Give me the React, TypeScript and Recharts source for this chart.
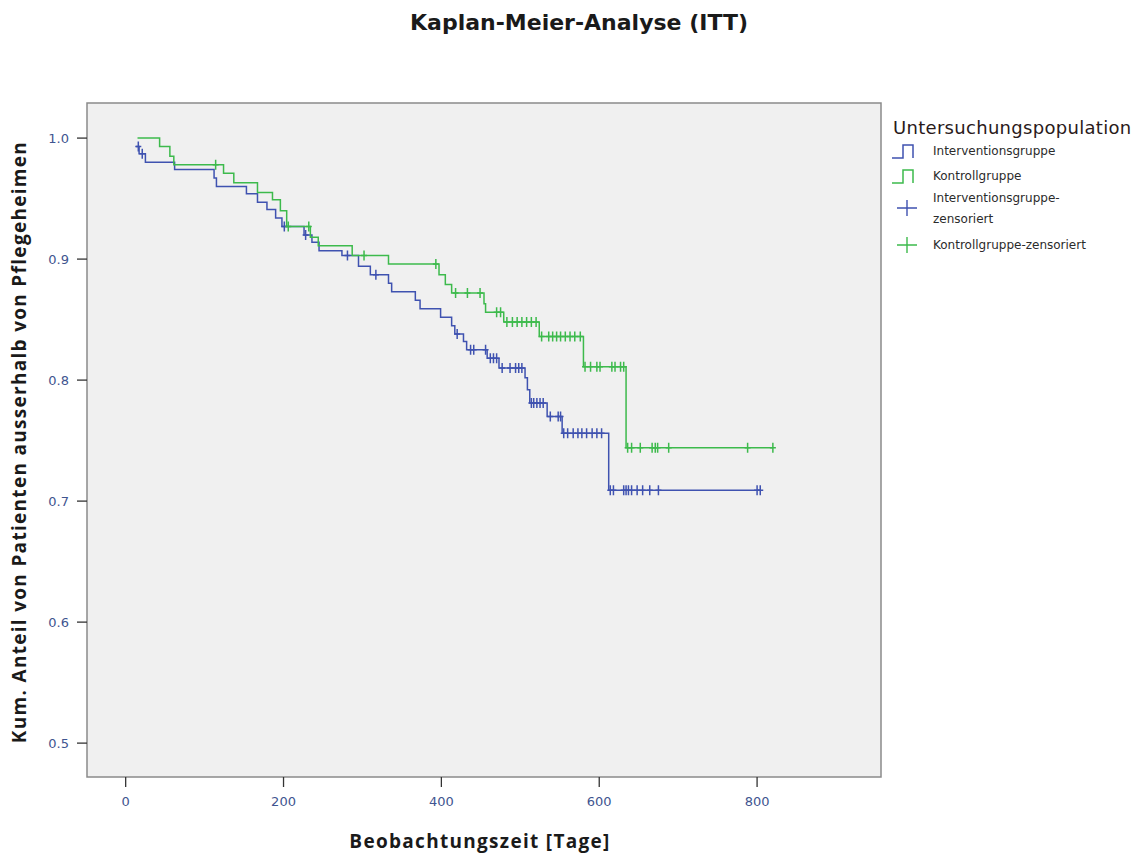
import { ComposedChart, Line, Scatter, XAxis, YAxis, ReferenceArea, Legend } from "recharts";

const BLUE = "#3f52b0";
const GREEN = "#3dba4c";

const X_TICKS = [0, 200, 400, 600, 800];
const Y_TICKS = [0.5, 0.6, 0.7, 0.8, 0.9, 1.0];

// Interventionsgruppe: Ereigniszeitpunkte (Tage) und kum. Anteil danach
const IG_TIME = [13, 17, 25, 62, 112, 115, 153, 167, 179, 190, 198, 226, 236, 245, 274, 295, 310, 333, 337, 367, 373, 399, 413, 417, 428, 432, 458, 473, 506, 509, 512, 534, 553, 612, 804];
const IG_SURV = [0.993, 0.987, 0.98, 0.974, 0.967, 0.96, 0.954, 0.947, 0.941, 0.934, 0.927, 0.92, 0.914, 0.907, 0.903, 0.894, 0.887, 0.88, 0.873, 0.866, 0.859, 0.852, 0.845, 0.838, 0.832, 0.825, 0.818, 0.81, 0.802, 0.792, 0.781, 0.77, 0.756, 0.709, 0.709];
const IG_CENSORED = [16, 21, 201, 228, 281, 317, 420, 437, 441, 456, 462, 466, 470, 477, 487, 494, 498, 502, 514, 517, 521, 525, 529, 538, 548, 551, 555, 560, 567, 573, 578, 584, 591, 597, 603, 614, 618, 631, 634, 637, 641, 648, 655, 664, 675, 800, 804];

// Kontrollgruppe
const KG_TIME = [15, 43, 56, 61, 124, 137, 167, 186, 196, 204, 234, 244, 287, 333, 397, 405, 413, 454, 456, 479, 524, 580, 634, 820];
const KG_SURV = [1.0, 0.993, 0.985, 0.978, 0.971, 0.963, 0.955, 0.949, 0.94, 0.927, 0.918, 0.911, 0.903, 0.896, 0.887, 0.879, 0.872, 0.863, 0.856, 0.848, 0.836, 0.811, 0.744, 0.744];
const KG_CENSORED = [114, 206, 232, 302, 393, 418, 433, 449, 470, 475, 483, 490, 496, 502, 508, 514, 520, 527, 536, 541, 546, 551, 557, 563, 569, 576, 582, 589, 597, 601, 616, 620, 627, 631, 636, 641, 652, 667, 671, 674, 688, 788, 820];

const LEGEND_TITLE = "Untersuchungspopulation";
const LEGEND_ITEMS = [
  { lines: ["Interventionsgruppe"], color: BLUE, kind: "step" },
  { lines: ["Kontrollgruppe"], color: GREEN, kind: "step" },
  { lines: ["Interventionsgruppe-", "zensoriert"], color: BLUE, kind: "plus" },
  { lines: ["Kontrollgruppe-zensoriert"], color: GREEN, kind: "plus" },
];

const toLine = (times: number[], surv: number[]) => times.map((t, i) => ({ t, s: surv[i] }));

// Wert der Treppenfunktion zum Zensierungszeitpunkt
const atTime = (times: number[], surv: number[], t: number) => {
  let v = surv[0];
  times.forEach((tt, i) => {
    if (tt <= t) v = surv[i];
  });
  return v;
};

const toCensored = (cens: number[], times: number[], surv: number[]) =>
  cens.map((t) => ({ t, s: atTime(times, surv, t) }));

const igLine = toLine(IG_TIME, IG_SURV);
const kgLine = toLine(KG_TIME, KG_SURV);
const igCens = toCensored(IG_CENSORED, IG_TIME, IG_SURV);
const kgCens = toCensored(KG_CENSORED, KG_TIME, KG_SURV);

const plusShape = (color: string) => (props: any) => {
  const { cx, cy } = props;
  if (cx == null || cy == null) return <g />;
  return (
    <path
      d={`M${cx - 3},${cy}H${cx + 3}M${cx},${cy - 5}V${cy + 5}`}
      stroke={color}
      strokeWidth={1.5}
      fill="none"
    />
  );
};

const LegendBox = () => (
  <svg width={260} height={150} style={{ display: "block" }}>
    <text x={13} y={24} fontFamily="DejaVu Sans" fontSize={18} letterSpacing={0.3} fill="#2a1a1a">
      {LEGEND_TITLE}
    </text>
    {LEGEND_ITEMS.map((item, i) => {
      const cy = [41, 66, 98, 135][i];
      const icon =
        item.kind === "step" ? (
          <path
            d={`M12,${cy + 7}H23V${cy - 6}H33V${cy + 7}`}
            stroke={item.color}
            strokeWidth={1.5}
            fill="none"
          />
        ) : (
          <path
            d={`M17,${cy}H37M27,${cy - 8}V${cy + 8}`}
            stroke={item.color}
            strokeWidth={1.4}
            fill="none"
          />
        );
      const first = item.lines.length > 1 ? cy - 10 : cy;
      return (
        <g key={i}>
          {icon}
          {item.lines.map((ln, j) => (
            <text
              key={j}
              x={53}
              y={first + j * 21}
              dy="0.35em"
              fontFamily="DejaVu Sans"
              fontSize={12}
              fill="#2b2b2b"
            >
              {ln}
            </text>
          ))}
        </g>
      );
    })}
  </svg>
);

const tickStyle = { fontFamily: "DejaVu Sans", fontSize: 13, fill: "#3f5590" };

export default function App() {
  return (
    <div style={{ position: "absolute", left: 0, top: 0, width: 1143, height: 857, background: "#fff" }}>
      <div
        style={{
          position: "absolute",
          left: 579,
          top: 10,
          transform: "translateX(-50%)",
          whiteSpace: "nowrap",
          fontFamily: "DejaVu Sans",
          fontWeight: 700,
          fontSize: 22,
          color: "#1a1a1a",
        }}
      >
        Kaplan-Meier-Analyse (ITT)
      </div>
      <ComposedChart width={1143} height={857} margin={{ top: 103, right: 262, bottom: 0, left: 0 }}>
        <XAxis
          type="number"
          dataKey="t"
          domain={[-49, 957]}
          allowDataOverflow
          ticks={X_TICKS}
          height={80}
          tickSize={10}
          tickMargin={10}
          axisLine={false}
          tickLine={{ stroke: "#333", strokeWidth: 1.3 }}
          tick={tickStyle}
          label={() => (
            <text
              x={480}
              y={848}
              textAnchor="middle"
              fontFamily="Open Sans"
              fontWeight={700}
              fontSize={19}
              letterSpacing={1.3}
              fill="#1a1a1a"
            >
              Beobachtungszeit [Tage]
            </text>
          )}
        />
        <YAxis
          type="number"
          dataKey="s"
          domain={[0.472, 1.029]}
          allowDataOverflow
          ticks={Y_TICKS}
          width={87}
          tickSize={10}
          tickMargin={8}
          axisLine={false}
          tickLine={{ stroke: "#333", strokeWidth: 1.3 }}
          tick={tickStyle}
          tickFormatter={(v: number) => v.toFixed(1)}
          label={() => (
            <text
              x={26}
              y={442}
              transform="rotate(-90 26 442)"
              textAnchor="middle"
              fontFamily="Open Sans"
              fontWeight={700}
              fontSize={19}
              letterSpacing={1.3}
              fill="#1a1a1a"
            >
              Kum. Anteil von Patienten ausserhalb von Pflegeheimen
            </text>
          )}
        />
        <ReferenceArea
          x1={-49}
          x2={957}
          y1={0.472}
          y2={1.029}
          fill="#f0f0f0"
          fillOpacity={1}
          stroke="#8a8a8a"
          strokeWidth={1.5}
        />
        <Line
          data={igLine}
          dataKey="s"
          type="stepAfter"
          stroke={BLUE}
          strokeWidth={1.5}
          dot={false}
          isAnimationActive={false}
        />
        <Line
          data={kgLine}
          dataKey="s"
          type="stepAfter"
          stroke={GREEN}
          strokeWidth={1.5}
          dot={false}
          isAnimationActive={false}
        />
        <Scatter data={igCens} dataKey="s" shape={plusShape(BLUE)} isAnimationActive={false} />
        <Scatter data={kgCens} dataKey="s" shape={plusShape(GREEN)} isAnimationActive={false} />
        <Legend
          layout="horizontal"
          verticalAlign="middle"
          align="center"
          content={() => <LegendBox />}
          wrapperStyle={{ position: "absolute", left: 880, top: 110, width: 260, height: 150 }}
        />
      </ComposedChart>
    </div>
  );
}
